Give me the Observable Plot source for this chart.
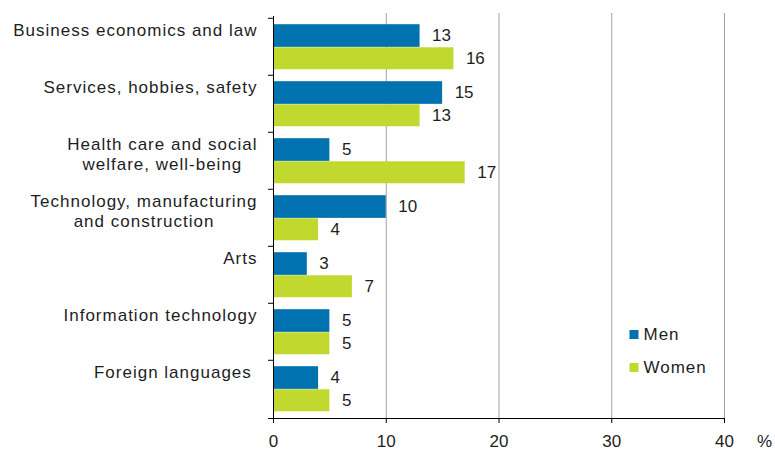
<!DOCTYPE html>
<html>
<head>
<meta charset="utf-8">
<script src="https://cdn.jsdelivr.net/npm/d3@7"></script>
<script src="https://cdn.jsdelivr.net/npm/@observablehq/plot@0.6"></script>
<style>
  html, body { margin: 0; padding: 0; background: #fff; }
  #chart { width: 775px; height: 451px; }
</style>
</head>
<body>
<div id="chart"></div>
<script>
// ---- data ----
const categories = [
  "Business economics and law",
  "Services, hobbies, safety",
  "Health care and social\nwelfare, well-being",
  "Technology, manufacturing\nand construction",
  "Arts",
  "Information technology",
  "Foreign languages "
];
const men = [13, 15, 5, 10, 3, 5, 4];
const women = [16, 13, 17, 4, 7, 5, 5];
const series = ["Men", "Women"];
const colors = ["#0072b0", "#c1d82f"];
const xTicks = [0, 10, 20, 30, 40];
const unitLabel = "%";

// ---- layout ----
const W = 775, H = 451, mt = 16, mb = 33, ml = 273, mr = 51;
const bh = (H - mt - mb) / categories.length;
const bands = {Men: [0.108, 0.51], Women: [0.51, 0.90]};
const fontFamily = "'Liberation Sans', Arial, sans-serif";
const fs = 17, ls = 1.0;
const textColor = "#1e1e1e";

const rows = categories.flatMap((c, i) => [
  {cat: c, sex: "Men", value: men[i]},
  {cat: c, sex: "Women", value: women[i]}
]);

const ctx = document.createElement("canvas").getContext("2d");
ctx.font = `${fs}px ${fontFamily}`;
const measure = s => ctx.measureText(s).width + s.length * ls;

const barMarks = series.flatMap(s => {
  const [b0, b1] = bands[s];
  const data = rows.filter(d => d.sex === s);
  return [
    Plot.barX(data, {y: "cat", x: "value", fill: "sex", insetTop: b0 * bh, insetBottom: (1 - b1) * bh}),
    Plot.text(data, {y: "cat", x: "value", text: d => String(d.value), textAnchor: "start", dx: 12,
      dy: ((b0 + b1) / 2 - 0.5) * bh, fontSize: fs, fill: textColor})
  ];
});

const labelLines = new Set();
const labelMarks = categories.flatMap(c => {
  const lines = c.split("\n");
  const bw = Math.max(...lines.map(measure));
  return lines.map((line, j) => {
    labelLines.add(line);
    return Plot.text([c], {
      y: d => d, text: () => line, frameAnchor: "left", textAnchor: "middle", lineAnchor: "middle",
      dx: -(16 + bw / 2), dy: -bh / 2 + 12 + 20 * j,
      fontSize: fs, fill: textColor
    });
  });
});

const legendMarks = series.flatMap((s, i) => {
  labelLines.add(s);
  return [
    Plot.dot([s], {frameAnchor: "bottom-right", symbol: "square", r: 5.1, fill: colors[i], dx: -90.5, dy: -84 + 33 * i}),
    Plot.text([s], {frameAnchor: "bottom-right", text: d => d, textAnchor: "start", lineAnchor: "middle",
      dx: -81, dy: -84 + 33 * i, fontSize: fs, fill: textColor})
  ];
});

const chart = Plot.plot({
  width: W, height: H,
  marginTop: mt, marginBottom: mb, marginLeft: ml, marginRight: mr,
  style: {fontFamily, fontSize: fs + "px", background: "#fff", color: textColor},
  x: {domain: [0, 40]},
  y: {domain: categories, padding: 0},
  color: {domain: series, range: colors},
  marks: [
    Plot.ruleX(xTicks.filter(t => t > 0), {stroke: "#a0a0a0", strokeWidth: 1, insetTop: -3}),
    ...barMarks,
    Plot.ruleX([0], {stroke: "#000", strokeWidth: 1}),
    Plot.axisY({tickSize: 5, tickFormat: () => "", dy: -bh / 2, stroke: "#000", label: null}),
    Plot.axisX({ticks: xTicks, tickSize: 5, tickPadding: 11, label: null, fontSize: fs, fill: textColor, stroke: "#000"}),
    ...labelMarks,
    Plot.text([unitLabel], {frameAnchor: "bottom-right", text: d => d, dx: 40, dy: 23, textAnchor: "middle", lineAnchor: "middle", fontSize: fs, fill: textColor}),
    ...legendMarks
  ]
});

// letter spacing for category and legend labels
d3.select(chart).selectAll("text")
  .filter(function() { return labelLines.has(this.textContent); })
  .style("letter-spacing", ls + "px");

// x-axis baseline (extends past the y axis like the reference)
const xs = chart.scale("x");
d3.select(chart).append("line")
  .attr("x1", xs.apply(xTicks[0]) - 5).attr("x2", xs.apply(xTicks[xTicks.length - 1]))
  .attr("y1", H - mb + 0.5).attr("y2", H - mb + 0.5)
  .attr("stroke", "#000").attr("stroke-width", 1);

document.getElementById("chart").appendChild(chart);
</script>
</body>
</html>
